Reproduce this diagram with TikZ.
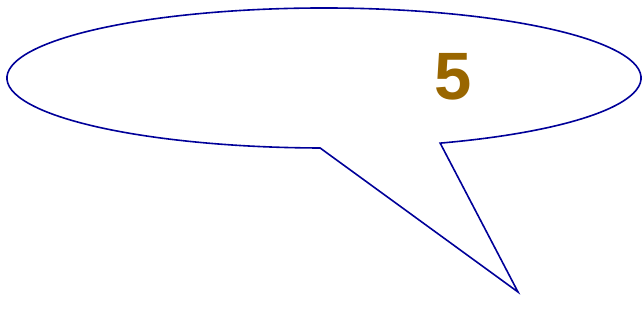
\documentclass[tikz,border=0pt]{standalone}
\usepackage{fontspec}
\setmainfont{Liberation Sans}
\usetikzlibrary{calc}
\definecolor{calloutline}{HTML}{000099}
\definecolor{numbrown}{HTML}{996600}
\begin{document}
\begin{tikzpicture}[x=1pt,y=1pt,
  callout/.style={draw=calloutline,line width=1.6pt,line join=miter},
  numtext/.style={text=numbrown,font=\bfseries\fontsize{67}{67}\selectfont,inner sep=0pt}]
\useasboundingbox (0,0) rectangle (642,322);
\coordinate (c) at (324,244);
\coordinate (tip) at (518,30);
\draw[callout] ($(c)+(291.5:317 and 70)$) arc[start angle=291.5,end angle=629.3,x radius=317,y radius=70] -- (tip) -- cycle;
\node[numtext] (n) at (453,245) {5};
\end{tikzpicture}
\end{document}
